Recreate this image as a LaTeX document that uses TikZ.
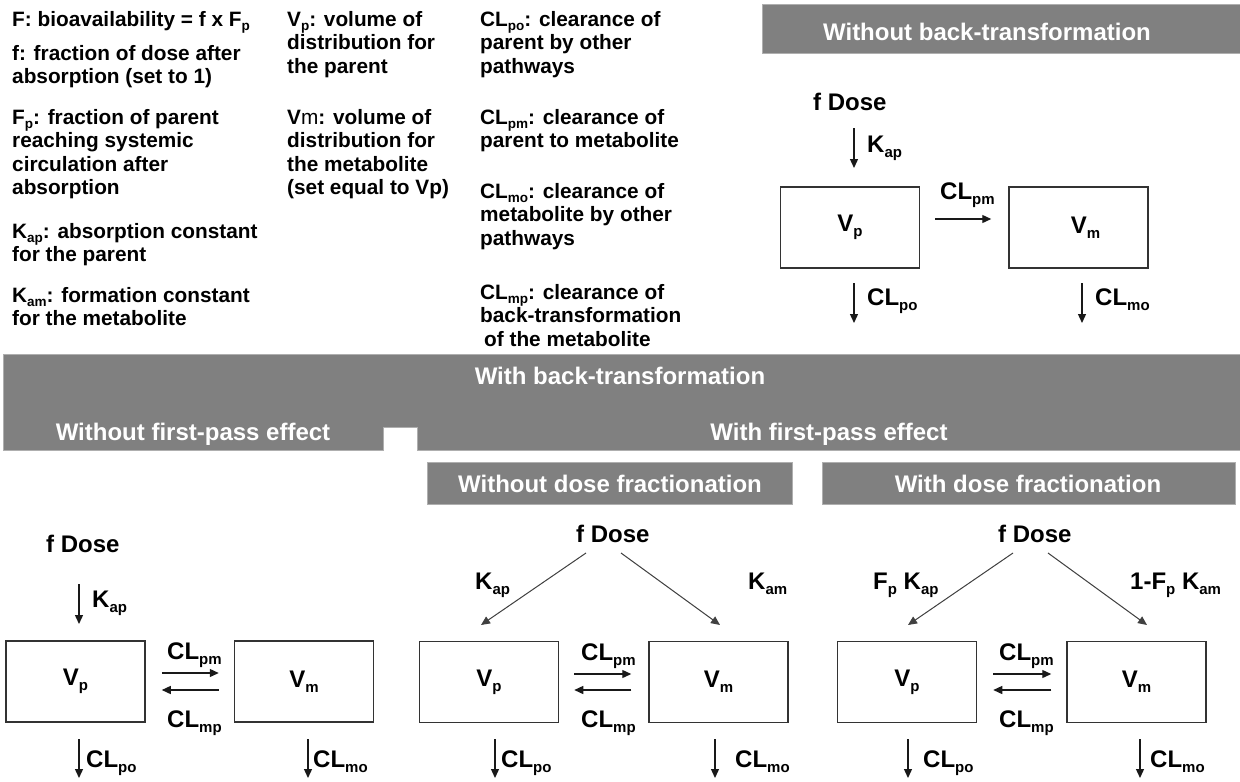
\documentclass[tikz,border=0pt]{standalone}
\usepackage{fontspec}
\setmainfont{Liberation Sans}
\usetikzlibrary{arrows.meta}
\definecolor{bgray}{RGB}{128,128,128}
\definecolor{bline}{RGB}{175,175,175}
\newcommand\dsub[1]{\raisebox{-5pt}{\fontsize{15}{15}\selectfont\bfseries #1}}
\newcommand\tsub[1]{\raisebox{-4pt}{\fontsize{13.5}{13.5}\selectfont\bfseries #1}}
\newcommand\para[1]{\parbox[t]{320pt}{\raggedright\fontsize{20.8}{23.5}\selectfont\bfseries #1}}
\begin{document}
\begin{tikzpicture}[x=1pt,y=-1pt,
  bodytext/.style={anchor=base west,inner sep=0pt},
  lbl/.style={anchor=base west,inner sep=0pt,font=\fontsize{24}{28}\selectfont\bfseries},
  cbox/.style={draw=black!80,line width=1.5pt,minimum width=139pt,minimum height=81pt,inner sep=0pt,font=\fontsize{24}{28}\selectfont\bfseries},
  banner/.style={fill=bgray,draw=bline,line width=0.8pt},
  btext/.style={anchor=base,inner sep=0pt,text=white,font=\fontsize{24}{28}\selectfont\bfseries},
  arr/.style={-{Triangle[length=9pt,width=8pt]},line width=1.3pt,draw=black!90},
  darr/.style={-{Triangle[length=9pt,width=8pt]},line width=1pt,draw=black!75},
]
\useasboundingbox[fill=white] (0,0) rectangle (1240,782);

% ---------- legend text ----------
\node[bodytext] (t1) at (12,26) {\para{F: bioavailability = f x F\tsub{p}}};
\node[bodytext] (t2) at (12,60) {\para{f: fraction of dose after\\absorption (set to 1)}};
\node[bodytext] (t3) at (12,124) {\para{F\tsub{p}: fraction of parent\\reaching systemic\\circulation after\\absorption}};
\node[bodytext] (t4) at (12,238) {\para{K\tsub{ap}: absorption constant\\for the parent}};
\node[bodytext] (t5) at (12,302) {\para{K\tsub{am}: formation constant\\for the metabolite}};

\node[bodytext] (t6) at (287,26) {\para{V\tsub{p}: volume of\\distribution for\\the parent}};
\node[bodytext] (t7) at (287,124) {\para{V{\mdseries m}: volume of\\distribution for\\the metabolite\\(set equal to Vp)}};

\node[bodytext] (t8) at (480,26) {\para{CL\tsub{po}: clearance of\\parent by other\\pathways}};
\node[bodytext] (t9) at (480,124) {\para{CL\tsub{pm}: clearance of\\parent to metabolite}};
\node[bodytext] (t10) at (480,198) {\para{CL\tsub{mo}: clearance of\\metabolite by other\\pathways}};
\node[bodytext] (t11) at (480,299) {\para{CL\tsub{mp}: clearance of\\back-transformation\\\hspace*{4pt}of the metabolite}};

% ---------- banners ----------
\path[banner] (762,4) rectangle (1240,53);
\node[btext] (b1) at (987,40) {Without back-transformation};

\path[banner] (3,354) -- (1240,354) -- (1240,450) -- (417,450) -- (417,427) -- (383,427) -- (383,450) -- (3,450) -- cycle;
\node[btext] (b2) at (620,384) {With back-transformation};
\node[btext] (b3) at (193,440) {Without first-pass effect};
\node[btext] (b4) at (829,440) {With first-pass effect};

\path[banner] (427,462) rectangle (792,504);
\node[btext] (b5) at (610,492) {Without dose fractionation};
\path[banner] (822,462) rectangle (1235,504);
\node[btext] (b6) at (1028,492) {With dose fractionation};

% ---------- top-right: without back-transformation ----------
\node[lbl] (d0) at (813,110) {f Dose};
\coordinate (k0s) at (854,128); \coordinate (k0e) at (854,168);
\draw[arr] (k0s) -- (k0e);
\node[lbl] (k0l) at (867,152) {K\dsub{ap}};
\node[cbox] (vp0) at (850,227.5) {V\dsub{p}};
\node[cbox] (vm0) at (1078.5,227.5) {\hspace*{14pt}V\dsub{m}};
\draw[arr] ([xshift=15pt,yshift=8.5pt]vp0.east) -- ([xshift=-17pt,yshift=8.5pt]vm0.west);
\node[lbl] (pm0) at (940,199) {CL\dsub{pm}};
\coordinate (po0s) at (854,283); \coordinate (po0e) at (854,323);
\draw[arr] (po0s) -- (po0e);
\node[lbl] (po0l) at (867,305) {CL\dsub{po}};
\coordinate (mo0s) at (1082,283); \coordinate (mo0e) at (1082,323);
\draw[arr] (mo0s) -- (mo0e);
\node[lbl] (mo0l) at (1095,305) {CL\dsub{mo}};

% ---------- bottom A: without first-pass effect ----------
\node[lbl] (dA) at (46,552) {f Dose};
\coordinate (kAs) at (79,584); \coordinate (kAe) at (79,624);
\draw[arr] (kAs) -- (kAe);
\node[lbl] (kAl) at (92,607) {K\dsub{ap}};
\node[cbox] (vpA) at (75.5,681.5) {V\dsub{p}};
\node[cbox] (vmA) at (304,681.5) {V\dsub{m}};
\draw[arr] ([xshift=16pt,yshift=8.5pt]vpA.east) -- ([xshift=-15pt,yshift=8.5pt]vmA.west);
\draw[arr] ([xshift=-15pt,yshift=-8.5pt]vmA.west) -- ([xshift=16pt,yshift=-8.5pt]vpA.east);
\node[lbl] (pmA) at (167,659) {CL\dsub{pm}};
\node[lbl] (mpA) at (167,727) {CL\dsub{mp}};
\coordinate (poAs) at (79,739); \coordinate (poAe) at (79,778);
\draw[arr] (poAs) -- (poAe);
\node[lbl] (poAl) at (86,767) {CL\dsub{po}};
\coordinate (moAs) at (308,739); \coordinate (moAe) at (308,778);
\draw[arr] (moAs) -- (moAe);
\node[lbl] (moAl) at (313,767) {CL\dsub{mo}};

% ---------- bottom B: without dose fractionation ----------
\node[lbl] (dB) at (576,542) {f Dose};
\coordinate (dBl) at (586,553); \coordinate (dBr) at (621,553);
\coordinate (tBl) at (481,625); \coordinate (tBr) at (720,625);
\draw[darr] (dBl) -- (tBl);
\draw[darr] (dBr) -- (tBr);
\node[lbl] (kBl) at (475,589) {K\dsub{ap}};
\node[lbl] (kBr) at (748,589) {K\dsub{am}};
\node[cbox] (vpB) at (489,682) {V\dsub{p}};
\node[cbox] (vmB) at (718.5,682) {V\dsub{m}};
\draw[arr] ([xshift=15pt,yshift=8pt]vpB.east) -- ([xshift=-17pt,yshift=8pt]vmB.west);
\draw[arr] ([xshift=-17pt,yshift=-8pt]vmB.west) -- ([xshift=15pt,yshift=-8pt]vpB.east);
\node[lbl] (pmB) at (581,660) {CL\dsub{pm}};
\node[lbl] (mpB) at (581,727) {CL\dsub{mp}};
\coordinate (poBs) at (495,739); \coordinate (poBe) at (495,778);
\draw[arr] (poBs) -- (poBe);
\node[lbl] (poBl) at (501,767) {CL\dsub{po}};
\coordinate (moBs) at (715,739); \coordinate (moBe) at (715,778);
\draw[arr] (moBs) -- (moBe);
\node[lbl] (moBl) at (735,767) {CL\dsub{mo}};

% ---------- bottom C: with dose fractionation ----------
\node[lbl] (dC) at (998,542) {f Dose};
\coordinate (dCl) at (1013,553); \coordinate (dCr) at (1048,553);
\coordinate (tCl) at (908,625); \coordinate (tCr) at (1147,625);
\draw[darr] (dCl) -- (tCl);
\draw[darr] (dCr) -- (tCr);
\node[lbl] (kCl) at (873,589) {F\dsub{p} K\dsub{ap}};
\node[lbl] (kCr) at (1130,589) {1-F\dsub{p} K\dsub{am}};
\node[cbox] (vpC) at (907,682) {V\dsub{p}};
\node[cbox] (vmC) at (1136.5,682) {V\dsub{m}};
\draw[arr] ([xshift=16pt,yshift=8pt]vpC.east) -- ([xshift=-15pt,yshift=8pt]vmC.west);
\draw[arr] ([xshift=-15pt,yshift=-8pt]vmC.west) -- ([xshift=16pt,yshift=-8pt]vpC.east);
\node[lbl] (pmC) at (999,660) {CL\dsub{pm}};
\node[lbl] (mpC) at (999,727) {CL\dsub{mp}};
\coordinate (poCs) at (908,739); \coordinate (poCe) at (908,778);
\draw[arr] (poCs) -- (poCe);
\node[lbl] (poCl) at (923,767) {CL\dsub{po}};
\coordinate (moCs) at (1140,739); \coordinate (moCe) at (1140,778);
\draw[arr] (moCs) -- (moCe);
\node[lbl] (moCl) at (1150,767) {CL\dsub{mo}};
\end{tikzpicture}
\end{document}
